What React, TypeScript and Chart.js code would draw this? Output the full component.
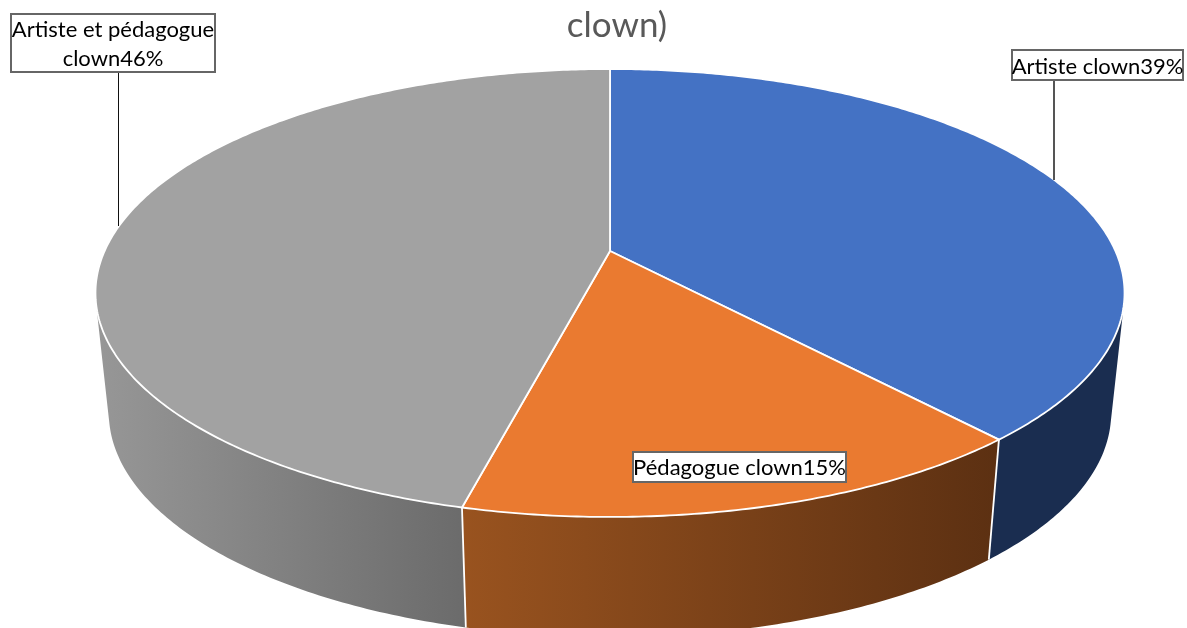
import React, { useEffect, useRef } from "react";
import { Chart, registerables } from "chart.js";

Chart.register(...registerables);

const categories = ["Artiste clown", "Pédagogue clown", "Artiste et pédagogue clown"];
const shares = [38.5, 15.35, 46.15];
const topColors = ["#4472c4", "#ea7a30", "#a2a2a2"];
const sideColors = [
  ["#1a2d50", "#1a2d50"],
  ["#99531f", "#5c3012"],
  ["#979797", "#6b6b6b"],
];
const titleLines = ["clown)"];

const W = 1187;
const H = 628;

// Perspective projection of the unit disc on to the top face
const APEX_X = 610;
const APEX_Y = 251;
const PA = 505.4;
const PB = 216.1;
const PK = -0.1875;
const TOP_CY = 293;
const BOTTOM_CY = 413;
const BOTTOM_SX = 0.974;
const BOTTOM_SY = 1.0;

type Pt = [number, number];

function topPoint(angle: number): Pt {
  const theta = angle + Math.PI / 2;
  const u = Math.sin(theta);
  const v = -Math.cos(theta);
  const d = 1 + PK * v;
  return [APEX_X + (PA * u) / d, APEX_Y + (PB * v) / d];
}

function bottomPoint(angle: number): Pt {
  const [x, y] = topPoint(angle);
  return [APEX_X + (x - APEX_X) * BOTTOM_SX, BOTTOM_CY + (y - TOP_CY) * BOTTOM_SY];
}

// Callout layout: box rectangle and optional leader
const callouts = [
  {
    index: 0,
    box: [1012, 50, 171, 30],
    leader: [1054, 80, 1054, 180],
    leaderColor: "#555555",
    leaderWidth: 2,
    textDy: 2,
    lines: (t: string) => [t],
  },
  { index: 1, box: [633, 452, 213, 30], leader: null, leaderColor: "", leaderWidth: 0, textDy: 1, lines: (t: string) => [t] },
  {
    index: 2,
    box: [11, 14, 204, 58],
    leader: [118.5, 72, 118.5, 226],
    leaderColor: "#111111",
    leaderWidth: 1,
    textDy: 1,
    lines: (t: string) => ["Artiste et pédagogue", t.replace("Artiste et pédagogue ", "")],
  },
];

const pie3d = {
  id: "pie3d",
  beforeDatasetsDraw(chart: any) {
    const ctx: CanvasRenderingContext2D = chart.ctx;
    const arcs = chart.getDatasetMeta(0).data;
    const order = [2, 0, 1];
    const sideFrom = 0;
    const sideTo = Math.PI;

    ctx.save();
    for (const i of order) {
      const a = arcs[i];
      const start = Math.max(a.startAngle, sideFrom);
      const end = Math.min(a.endAngle, sideTo);
      if (end <= start) continue;
      const n = Math.max(4, Math.ceil((end - start) / 0.012));
      const xs: number[] = [];
      for (let k = 0; k <= n; k++) {
        const t = start + ((end - start) * k) / n;
        xs.push(topPoint(t)[0], bottomPoint(t)[0]);
      }
      const grad = ctx.createLinearGradient(Math.min(...xs), 0, Math.max(...xs), 0);
      grad.addColorStop(0, sideColors[i][0]);
      grad.addColorStop(1, sideColors[i][1]);
      ctx.fillStyle = grad;
      // One path of consistently wound quads: a seamless union under the non-zero rule
      ctx.beginPath();
      for (let k = 0; k < n; k++) {
        const t0 = start + ((end - start) * k) / n;
        const t1 = start + ((end - start) * (k + 1)) / n;
        const quad = [topPoint(t0), topPoint(t1), bottomPoint(t1), bottomPoint(t0)];
        let area = 0;
        for (let m = 0; m < 4; m++) {
          const p = quad[m];
          const q = quad[(m + 1) % 4];
          area += p[0] * q[1] - q[0] * p[1];
        }
        if (area < 0) quad.reverse();
        ctx.moveTo(quad[0][0], quad[0][1]);
        ctx.lineTo(quad[1][0], quad[1][1]);
        ctx.lineTo(quad[2][0], quad[2][1]);
        ctx.lineTo(quad[3][0], quad[3][1]);
        ctx.closePath();
      }
      ctx.fill();
    }

    // White edges between the side walls
    ctx.strokeStyle = "#ffffff";
    ctx.lineWidth = 1.8;
    for (const a of arcs) {
      if (a.endAngle > sideFrom && a.endAngle < sideTo) {
        const p = topPoint(a.endAngle);
        const q = bottomPoint(a.endAngle);
        ctx.beginPath();
        ctx.moveTo(p[0], p[1]);
        ctx.lineTo(q[0], q[1]);
        ctx.stroke();
      }
    }

    // Top face
    arcs.forEach((a: any) => {
      const n = Math.max(8, Math.ceil((a.endAngle - a.startAngle) / 0.01));
      ctx.beginPath();
      ctx.moveTo(APEX_X, APEX_Y);
      for (let k = 0; k <= n; k++) {
        const p = topPoint(a.startAngle + ((a.endAngle - a.startAngle) * k) / n);
        ctx.lineTo(p[0], p[1]);
      }
      ctx.closePath();
      ctx.fillStyle = a.options.backgroundColor;
      ctx.fill();
      ctx.strokeStyle = "#ffffff";
      ctx.lineWidth = 1.8;
      ctx.lineJoin = "round";
      ctx.stroke();
    });
    ctx.restore();
    return false;
  },
  afterDraw(chart: any) {
    const ctx: CanvasRenderingContext2D = chart.ctx;
    const values = chart.data.datasets[0].data as number[];
    const labels = chart.data.labels as string[];
    ctx.save();
    for (const c of callouts) {
      const [x, y, w, h] = c.box;
      if (c.leader) {
        const [x1, y1, x2, y2] = c.leader;
        ctx.strokeStyle = c.leaderColor;
        ctx.lineWidth = c.leaderWidth;
        ctx.beginPath();
        ctx.moveTo(x1, y1);
        ctx.lineTo(x2, y2);
        ctx.stroke();
      }
      ctx.fillStyle = "#ffffff";
      ctx.strokeStyle = "#666666";
      ctx.lineWidth = 2;
      ctx.beginPath();
      ctx.rect(x, y, w, h);
      ctx.fill();
      ctx.stroke();
      const text = labels[c.index] + Math.round(values[c.index]) + "%";
      const lines = c.lines(text);
      ctx.fillStyle = "#000000";
      ctx.font = "22px Lato";
      ctx.textAlign = "center";
      ctx.textBaseline = "middle";
      const lh = 29;
      lines.forEach((line: string, i: number) => {
        ctx.fillText(line, x + w / 2, y + h / 2 + (i - (lines.length - 1) / 2) * lh + c.textDy);
      });
    }
    ctx.restore();
  },
};

export default function App() {
  const ref = useRef<HTMLCanvasElement | null>(null);
  useEffect(() => {
    document.body.style.margin = "0";
    document.body.style.background = "#ffffff";
    const chart = new Chart(ref.current as HTMLCanvasElement, {
      type: "pie",
      data: {
        labels: categories,
        datasets: [{ data: shares, backgroundColor: topColors, borderColor: "#ffffff", borderWidth: 1.5 }],
      },
      plugins: [pie3d],
      options: {
        responsive: false,
        animation: false,
        events: [],
        layout: { padding: { left: 47 } },
        plugins: {
          legend: { display: false },
          tooltip: { enabled: false },
          title: {
            display: true,
            text: titleLines,
            fullSize: false,
            color: "#595959",
            font: { family: "Lato", size: 35, weight: "normal" },
            padding: { top: 5, bottom: 4 },
          },
        },
      } as any,
    });
    return () => chart.destroy();
  }, []);
  return <canvas ref={ref} width={W} height={H} style={{ display: "block", width: W, height: H }} />;
}
